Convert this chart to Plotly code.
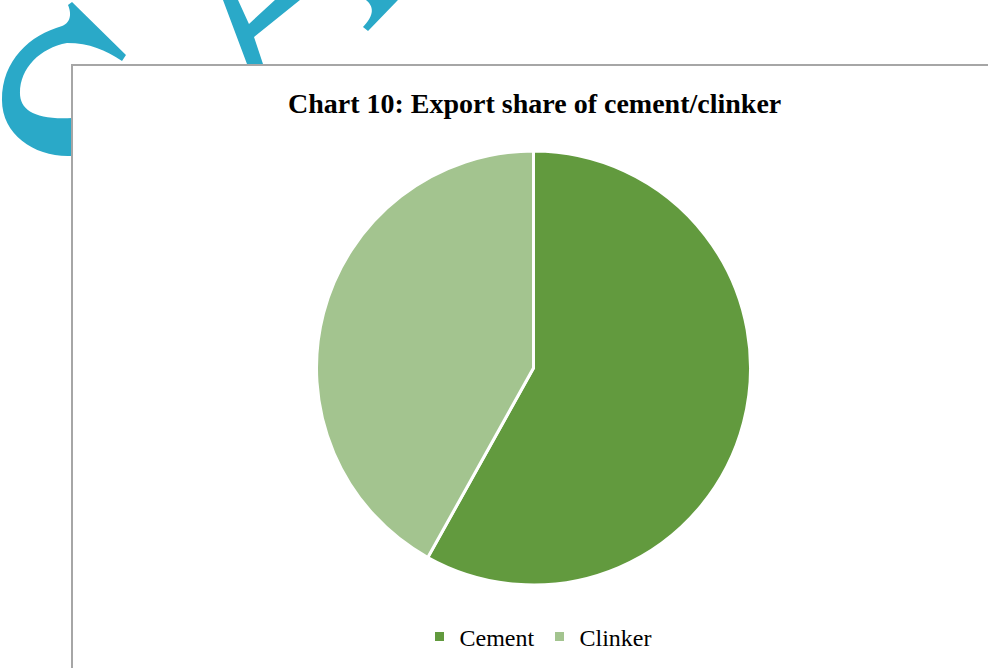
import plotly.graph_objects as go

# data
labels = ["Cement", "Clinker"]
shares = [58.1, 41.9]
colors = ["#629A3E", "#A3C48F"]

W, H = 988, 668


def px(x):
    return x / W


def py(y):
    return 1 - y / H


def curve_path(segs):
    out = []
    for cmd, pts in segs:
        out.append(cmd + " " + " ".join(f"{px(x):.4f},{py(y):.4f}" for x, y in pts))
    return " ".join(out) + " Z"


blue = "#2AA9C8"
wm = []
# curled hook on the left
wm.append([
    ("M", [(68, 5)]), ("L", [(72, 2)]), ("L", [(126, 55)]), ("L", [(122, 61)]),
    ("C", [(105, 50), (90, 43), (67, 43)]),
    ("C", [(40, 48), (20, 68), (20, 93)]),
    ("C", [(20, 110), (35, 120), (72, 118)]),
    ("L", [(80, 118)]), ("L", [(80, 156)]), ("L", [(70, 156)]),
    ("C", [(35, 157), (2, 135), (2, 100)]),
    ("C", [(2, 60), (30, 35), (62, 26)]),
    ("C", [(72, 22), (71, 12), (68, 5)]),
])
# forked stroke in the middle
wm.append([
    ("M", [(223, 0)]), ("L", [(238, 0)]), ("L", [(249, 24)]), ("L", [(275, 0)]),
    ("L", [(300, 0)]), ("L", [(254, 37)]), ("L", [(263, 64)]), ("L", [(247, 64)]),
])
# small stroke on the right
wm.append([
    ("M", [(366, 0)]), ("L", [(398, 0)]), ("L", [(368, 31)]), ("L", [(363, 27)]),
    ("C", [(372, 18), (376, 8), (366, 0)]),
])

shapes = [dict(type="path", xref="paper", yref="paper", layer="below",
               fillcolor=blue, line=dict(width=0), path=curve_path(s)) for s in wm]

# chart area box
shapes.append(dict(type="rect", xref="paper", yref="paper", layer="below",
                   x0=px(72), x1=px(1010), y0=py(700), y1=py(65),
                   fillcolor="white", line=dict(color="#A6A6A6", width=2)))

cx, cy, r = 533.5, 368, 217

fig = go.Figure(go.Pie(
    labels=labels,
    values=shares,
    marker=dict(colors=colors, line=dict(color="white", width=3)),
    sort=False,
    direction="clockwise",
    rotation=0,
    textinfo="none",
    hoverinfo="label+percent",
    domain=dict(x=[px(cx - r), px(cx + r)], y=[py(cy + r), py(cy - r)]),
))

fig.update_layout(
    width=W, height=H,
    margin=dict(l=0, r=0, t=0, b=0),
    paper_bgcolor="white",
    shapes=shapes,
    annotations=[dict(
        text="<b>Chart 10: Export share of cement/clinker</b>",
        x=px(534), y=py(103), xref="paper", yref="paper",
        xanchor="center", yanchor="middle", showarrow=False,
        font=dict(family="Liberation Serif", size=28, color="#000000"),
    )],
    legend=dict(
        orientation="h",
        x=px(538), y=py(637), xanchor="center", yanchor="middle",
        font=dict(family="Liberation Serif", size=24, color="#000000"),
        bgcolor="rgba(0,0,0,0)",
    ),
    font=dict(family="Liberation Serif"),
)

# drop the default page margin so the figure fills the window
fig.write_html("out.html", config={"displayModeBar": False},
               post_script="document.body.style.margin='0';")
